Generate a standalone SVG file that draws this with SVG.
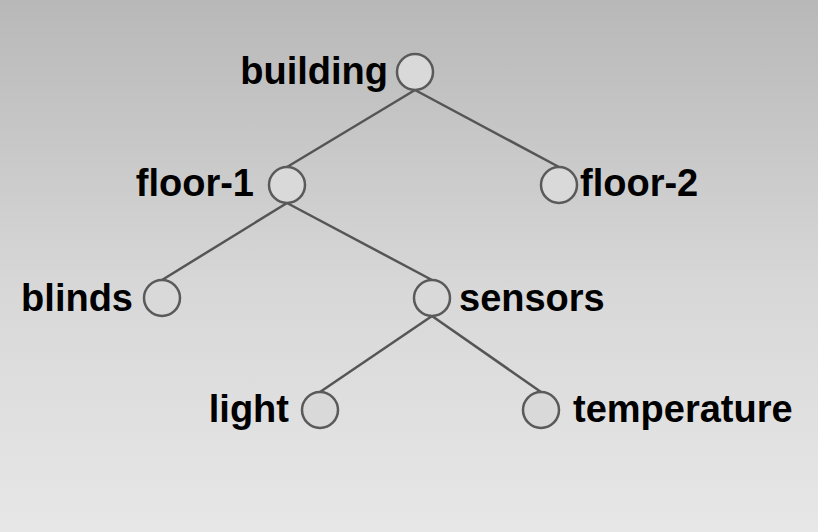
<svg xmlns="http://www.w3.org/2000/svg" width="818" height="532" viewBox="0 0 818 532">
<defs>
<linearGradient id="bg" x1="0" y1="0" x2="0" y2="1">
<stop offset="0" stop-color="#b8b8b8"/>
<stop offset="0.55" stop-color="#d8d8d8"/>
<stop offset="1" stop-color="#e7e7e7"/>
</linearGradient>
<style>
.n circle{fill:#d9d9d9;stroke:#5a5a5a;stroke-width:2.5}
.n text{font-family:"Liberation Sans",Arial,sans-serif;font-weight:bold;font-size:38px;fill:#000}
.l{text-anchor:end}
#edges line{stroke:#555;stroke-width:2.5}
</style>
</defs>
<rect width="818" height="532" fill="url(#bg)"/>
<g id="edges">
<line x1="415" y1="90" x2="287" y2="167"/>
<line x1="415" y1="90" x2="559" y2="167"/>
<line x1="287" y1="203" x2="162" y2="280"/>
<line x1="287" y1="203" x2="432" y2="280"/>
<line x1="432" y1="316" x2="320" y2="392"/>
<line x1="432" y1="316" x2="541" y2="392"/>
</g>
<g id="building" class="n"><circle cx="415" cy="72" r="18"/><text class="l" x="388" y="84">building</text></g>
<g id="floor-1" class="n"><circle cx="287" cy="185" r="18"/><text class="l" x="254" y="196">floor-1</text></g>
<g id="floor-2" class="n"><circle cx="559" cy="185" r="18"/><text x="580" y="196">floor-2</text></g>
<g id="blinds" class="n"><circle cx="162" cy="298" r="18"/><text class="l" x="133" y="311">blinds</text></g>
<g id="sensors" class="n"><circle cx="432" cy="298" r="18"/><text x="459" y="311">sensors</text></g>
<g id="light" class="n"><circle cx="320" cy="410" r="18"/><text class="l" x="289" y="422">light</text></g>
<g id="temperature" class="n"><circle cx="541" cy="410" r="18"/><text x="573" y="422">temperature</text></g>
</svg>
